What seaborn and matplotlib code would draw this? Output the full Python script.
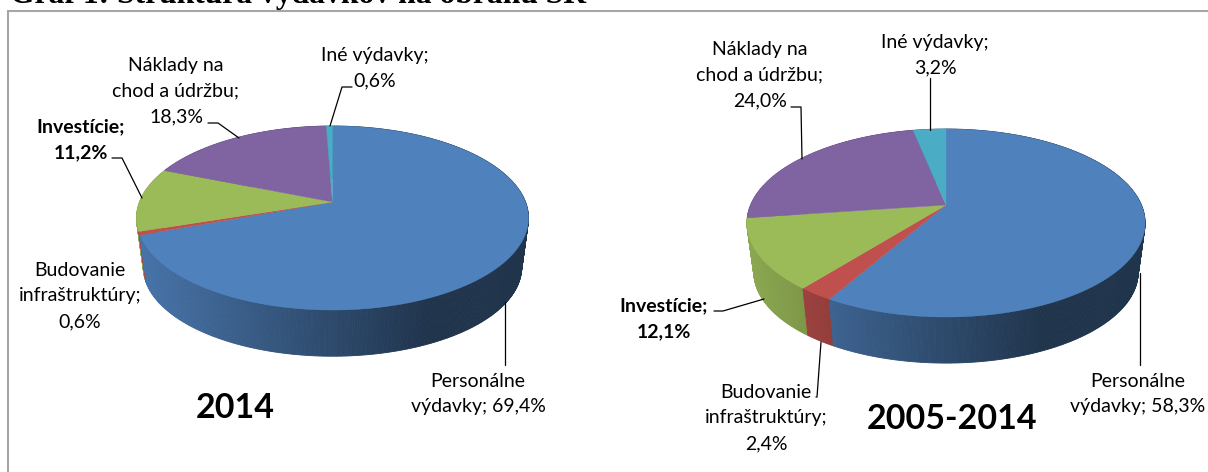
import numpy as np
import matplotlib
matplotlib.use("Agg")
import matplotlib.pyplot as plt
import seaborn as sns

sns.set_theme(style="white")
plt.rcParams["font.family"] = ["Lato", "DejaVu Sans"]

# data, clockwise from 12 o'clock
categories = ["Personálne výdavky", "Budovanie infraštruktúry", "Investície",
              "Náklady na chod a údržbu", "Iné výdavky"]
shares_2014 = [69.4, 0.6, 11.2, 18.3, 0.6]
shares_2005_2014 = [58.3, 2.4, 12.1, 24.0, 3.2]

title_text = "Graf 1: Štruktúra výdavkov na obranu SR"
name_2014 = "2014"
name_2005_2014 = "2005-2014"

labels_2014 = ["Personálne\nvýdavky; 69,4%", "Budovanie\ninfraštruktúry;\n0,6%", "Investície;\n11,2%",
               "Náklady na\nchod a údržbu;\n18,3%", "Iné výdavky;\n0,6%"]
labels_2005_2014 = ["Personálne\nvýdavky; 58,3%", "Budovanie\ninfraštruktúry;\n2,4%", "Investície;\n12,1%",
                    "Náklady na\nchod a údržbu;\n24,0%", "Iné výdavky;\n3,2%"]

colors = sns.color_palette(["#4F81BD", "#C0504D", "#9BBB59", "#8064A2", "#4BACC6"])


def rim(t, cx, cy, a, up, down):
    # circle seen in perspective, cx,cy is where the pie centre ends up
    k = (down - up) / (down + up)
    b = up * (1 + k)
    w = 1 + k * np.cos(t)
    return cx + a * np.sin(t) / w, cy - b * np.cos(t) / w


def draw_pie(ax, shares, cx, cy, a, up, down, depth, shrink=0.965):
    edges = np.cumsum([0] + list(shares)) / np.sum(shares) * 2 * np.pi
    left, right = cx - a * 1.015, cx + a * 1.015

    # side wall first, back to front, the top covers the back of it
    quads = []
    for i, col in enumerate(colors):
        n = max(int((edges[i + 1] - edges[i]) * 90), 2)
        ts = np.linspace(edges[i], edges[i + 1], n + 1)
        for t0, t1 in zip(ts[:-1], ts[1:]):
            quads.append((np.cos((t0 + t1) / 2), t0, t1, col))
    quads.sort(key=lambda q: -q[0])
    for _, t0, t1, col in quads:
        x0, y0 = rim(t0, cx, cy, a, up, down)
        x1, y1 = rim(t1, cx, cy, a, up, down)
        x2, y2 = rim(t1, cx, cy + depth, a * shrink, up * shrink, down * shrink)
        x3, y3 = rim(t0, cx, cy + depth, a * shrink, up * shrink, down * shrink)
        u = ((x0 + x1) / 2 - left) / (right - left)
        f = np.interp(u, [0, 0.75, 1], [0.9, 0.4, 0.4])
        shade = tuple(c * f for c in col)
        ax.fill([x0, x1, x2, x3], [y0, y1, y2, y3], color=shade, lw=0.6)

    for i, col in enumerate(colors):
        ts = np.linspace(edges[i], edges[i + 1], 200)
        xs, ys = rim(ts, cx, cy, a, up, down)
        ax.fill(np.r_[cx, xs], np.r_[cy, ys], color=col, lw=0.3)


fig = plt.figure(figsize=(12.08, 4.72), dpi=100)
ax = fig.add_axes([0, 0, 1, 1])
ax.set_xlim(0, 1208)
ax.set_ylim(472, 0)
ax.axis("off")

# only the top and left of the frame are inside the crop
ax.plot([8, 8, 1208], [472, 10.5, 10.5], color="#A6A6A6", lw=1.5, solid_joinstyle="miter")
ax.text(10.5, 3, title_text, family="Liberation Serif", fontweight="bold", fontsize=22.8,
        color="black", ha="left", va="baseline")

draw_pie(ax, shares_2014, 332.5, 202, 193, 76, 108, 50)
draw_pie(ax, shares_2005_2014, 946, 205, 195.4, 76, 112, 50)

# label centres
pos_2014 = [(478, 394), (80, 296), (81, 140), (176, 91), (375, 68)]
pos_2005_2014 = [(1138, 394), (766, 418), (664, 319), (760, 75), (935, 55)]
bold = [False, False, True, False, False]

for labels, pos in [(labels_2014, pos_2014), (labels_2005_2014, pos_2005_2014)]:
    for lab, (x, y), b in zip(labels, pos, bold):
        ax.text(x, y, lab, ha="center", va="center", multialignment="center", fontsize=14,
                linespacing=1.62, color="black", fontweight="bold" if b else "normal")

ax.text(235, 408, name_2014, ha="center", va="center", fontsize=24.5, fontweight="bold", color="black")
ax.text(952, 419, name_2005_2014, ha="center", va="center", fontsize=24.5, fontweight="bold", color="black")

# leader lines
leaders = [
    [(330, 126), (342, 87), (352, 87)],
    [(239, 138), (218, 123), (208, 123)],
    [(142, 198), (122, 158), (112, 158)],
    [(505, 302), (505, 365)],
    [(930, 130), (930, 78)],
    [(802, 159), (801, 107), (791, 107)],
    [(764, 299), (723, 311), (714, 311)],
    [(1140, 273), (1140, 365)],
    [(821, 342), (817, 397), (816, 397)],
]
for pts in leaders:
    xs, ys = zip(*pts)
    ax.plot(xs, ys, color="black", lw=0.9)

fig.savefig("out.png", dpi=100)
